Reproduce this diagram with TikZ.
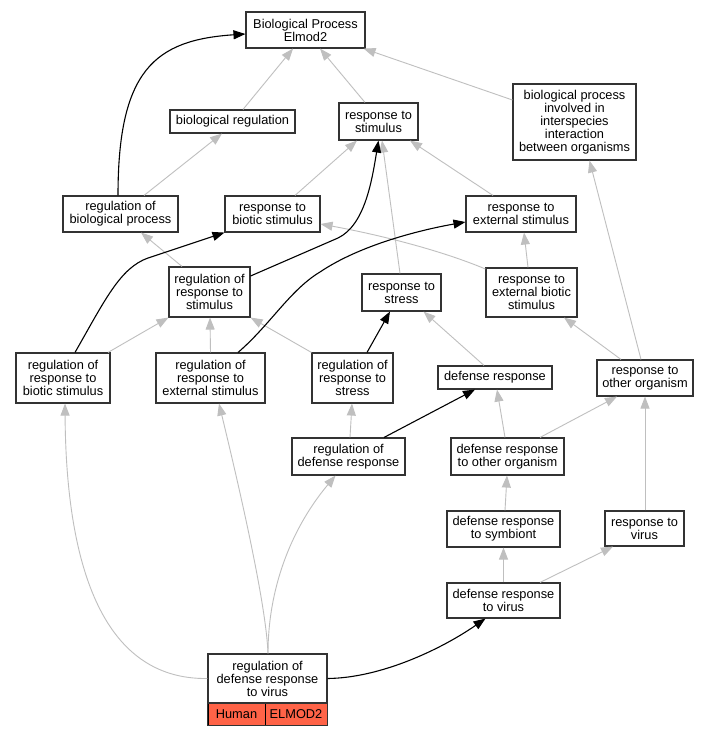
\documentclass[tikz,border=0pt]{standalone}
\usepackage{fontspec}
\setmainfont{Liberation Sans}
\usetikzlibrary{arrows.meta}
\definecolor{tomato}{HTML}{FF6347}

\begin{document}
\begin{tikzpicture}[x=1pt, y=-1pt,
    term/.style={draw=black!80, line width=1.1pt, fill=white, align=center, inner sep=0pt,
      font=\fontsize{12.8}{13}\selectfont},
    gene/.style={term, fill=tomato, draw=black, text=black, line width=0.9pt},
    isa/.style={draw=gray!50, line width=0.9pt, -{Triangle[length=12pt,width=9pt]}},
    reg/.style={draw=black, line width=1.1pt, -{Triangle[length=12pt,width=9pt]}}]

    % Page
    \fill[white] (0,0) rectangle (709,736);
    \useasboundingbox (0,0) rectangle (709,736);

    % Terms
    \node[term, minimum width=119pt, minimum height=36pt] (bp) at (305.5,30) {Biological Process\\Elmod2};
    \node[term, minimum width=125pt, minimum height=23pt] (breg) at (232.5,121.5) {biological regulation};
    \node[term, minimum width=79pt, minimum height=37pt] (rstim) at (378.5,121.5) {response to\\stimulus};
    \node[term, minimum width=123pt, minimum height=76pt] (bpii) at (574.5,122) {biological process\\involved in\\interspecies\\interaction\\between organisms};
    \node[term, minimum width=115pt, minimum height=36pt] (rbp) at (120.5,214) {regulation of\\biological process};
    \node[term, minimum width=95pt, minimum height=36pt] (rbs) at (272.5,214) {response to\\biotic stimulus};
    \node[term, minimum width=110pt, minimum height=36pt] (res) at (521,214) {response to\\external stimulus};
    \node[term, minimum width=81pt, minimum height=50pt] (rrs) at (209.5,292) {regulation of\\response to\\stimulus};
    \node[term, minimum width=79pt, minimum height=37pt] (rstr) at (401.5,292.5) {response to\\stress};
    \node[term, minimum width=91pt, minimum height=49pt] (rebs) at (531.5,292.5) {response to\\external biotic\\stimulus};
    \node[term, minimum width=94pt, minimum height=50pt] (rrbs) at (63,378) {regulation of\\response to\\biotic stimulus};
    \node[term, minimum width=109pt, minimum height=50pt] (rres) at (210.5,378) {regulation of\\response to\\external stimulus};
    \node[term, minimum width=81pt, minimum height=50pt] (rrstr) at (352.5,378) {regulation of\\response to\\stress};
    \node[term, minimum width=114pt, minimum height=23pt] (dr) at (495,377.5) {defense response};
    \node[term, minimum width=96pt, minimum height=36pt] (roo) at (645,378) {response to\\other organism};
    \node[term, minimum width=113pt, minimum height=37pt] (rdr) at (348.5,456.5) {regulation of\\defense response};
    \node[term, minimum width=113pt, minimum height=37pt] (droo) at (507.5,456.5) {defense response\\to other organism};
    \node[term, minimum width=113pt, minimum height=36pt] (drs) at (503.5,529) {defense response\\to symbiont};
    \node[term, minimum width=79pt, minimum height=35pt] (rv) at (644.5,528.5) {response to\\virus};
    \node[term, minimum width=113pt, minimum height=35pt] (drv) at (503.5,600.5) {defense response\\to virus};

    % Annotated term with its gene row
    \node[term, minimum width=119pt, minimum height=49pt] (rdrv) at (267.5,678.5) {regulation of\\defense response\\to virus};
    \node[gene, minimum width=57pt, minimum height=22pt] (human) at (236.5,714) {Human};
    \node[gene, minimum width=62pt, minimum height=22pt] (elmod) at (296,714) {ELMOD2};
    \draw[black!80, line width=1.1pt] (rdrv.south west) rectangle (elmod.south east);

    % is_a edges
    \foreach \s/\sx/\t/\tx in {breg.north/10.5/bp.south/-12.5, rstim.north/-13.5/bp.south/14.5,
        rbp.north/23.5/breg.south/-10.5, rbs.north/22.5/rstim.south/-21.5,
        res.north/-28/rstim.south/31.5, rstr.north/-1.5/rstim.south/3.5,
        rrs.north/-27.5/rbp.south/20.5, rebs.north/-3.5/res.south/3,
        rrbs.north/45/rrs.south west/0, rres.north/0/rrs.south/0.5,
        rrstr.north west/0/rrs.south east/0, dr.north/-11/rstr.south/22,
        roo.north/-24/rebs.south/32.5, roo.north/-4/bpii.south/15,
        droo.north/-2.5/dr.south/2, droo.north/32.5/roo.south/-28,
        rdr.north/1.5/rrstr.south/-0.5, drs.north/1.5/droo.south/-0.5,
        drv.north/0/drs.south/0, drv.north/36.5/rv.south/-31.5,
        rv.north/0.5/roo.south/0} {
      \draw[isa] ([xshift=\sx pt]\s) -- ([xshift=\tx pt]\t);
    }
    \draw[isa] ([yshift=22pt]bpii.west) -- ([xshift=-2pt]bp.south east);
    \draw[isa] ([yshift=23.5pt]rebs.west) .. controls (440,250) and (380,235) .. ([yshift=-10pt]rbs.east);
    \draw[isa] (rdrv.west) .. controls (100,680) and (66,560) .. ([xshift=2pt]rrbs.south);
    \draw[isa] ([xshift=0.5pt]rdrv.north) .. controls (266,600) and (235,470) .. ([xshift=8.5pt]rres.south);
    \draw[isa] ([xshift=0.5pt]rdrv.north) .. controls (268,590) and (290,530) .. ([xshift=-13pt]rdr.south);

    % regulates edges
    \draw[reg] ([xshift=-2.5pt]rbp.north) .. controls (118,70) and (155,40) .. ([yshift=-4pt]bp.west);
    \draw[reg] ([xshift=12pt]rrbs.north) .. controls (105,300) and (120,268) .. (148,258) -- (rbs.south west);
    \draw[reg] ([yshift=16pt]rrs.east) -- (338,238) .. controls (365,225) and (372,180) .. (rstim.south);
    \draw[reg] ([xshift=27.5pt]rres.north) .. controls (270,325) and (290,290) .. (320,272)
      .. controls (360,245) and (420,230) .. ([yshift=-8pt]res.west);
    \draw[reg] ([xshift=14.5pt]rrstr.north) -- ([xshift=-11.5pt]rstr.south);
    \draw[reg] ([xshift=35.5pt]rdr.north) -- ([xshift=-20pt]dr.south);
    \draw[reg] (rdrv.east) .. controls (380,678) and (440,650) .. ([xshift=-18pt]drv.south);

\end{tikzpicture}
\end{document}
